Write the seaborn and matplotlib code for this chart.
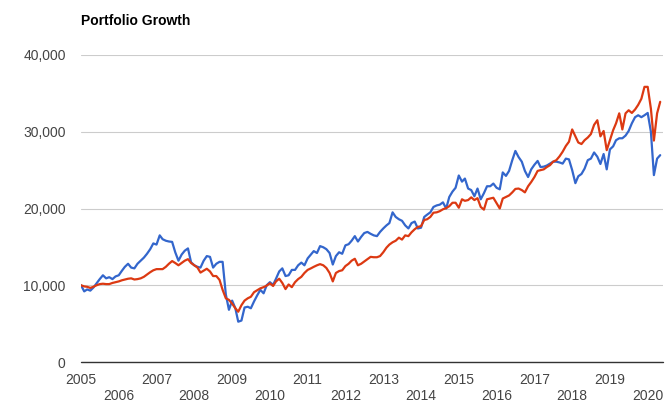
import pandas as pd
import seaborn as sns
import matplotlib.pyplot as plt
from matplotlib.ticker import FuncFormatter

# Monthly values, Jan 2005 - May 2020
months = pd.date_range("2005-01-01", "2020-05-01", freq="MS")

blue_values = [
    # 2005
    10000, 9200, 9450, 9300, 9700, 10250, 10800, 11300, 10900, 11050, 10800, 11150,
    # 2006
    11300, 11900, 12400, 12800, 12300, 12200, 12800, 13200, 13600, 14100, 14700, 15450,
    # 2007
    15300, 16500, 16000, 15800, 15700, 15650, 14300, 13200, 14000, 14500, 14800, 13000,
    # 2008
    12600, 12400, 12300, 13200, 13800, 13700, 12300, 12800, 13050, 13050, 8800, 6800,
    # 2009
    8000, 7000, 5250, 5400, 7100, 7200, 7000, 7900, 8700, 9400, 8950, 10000,
    # 2010
    10400, 10050, 10850, 11800, 12200, 11200, 11300, 12000, 12000, 12600, 12950, 12600,
    # 2011
    13500, 14000, 14450, 14200, 15100, 14950, 14700, 14200, 12700, 13800, 14300, 14100,
    # 2012
    15200, 15350, 15800, 16400, 15700, 16300, 16800, 16950, 16700, 16500, 16400, 16950,
    # 2013
    17400, 17800, 18100, 19500, 18900, 18600, 18400, 17800, 17400, 18100, 18300, 17400,
    # 2014
    17500, 18900, 19200, 19500, 20200, 20400, 20500, 20800, 20000, 21500, 22200, 22700,
    # 2015
    24300, 23500, 23900, 22600, 22400, 21600, 22600, 21200, 22000, 22900, 22900, 23250,
    # 2016
    22700, 22500, 24700, 24250, 24900, 26300, 27500, 26700, 26100, 24900, 24100, 25100,
    # 2017
    25700, 26200, 25400, 25450, 25600, 25850, 26100, 26100, 26000, 25850, 26500, 26400,
    # 2018
    25000, 23300, 24200, 24500, 25200, 26300, 26500, 27300, 26750, 25800, 27100, 25100,
    # 2019
    27700, 28100, 28900, 29150, 29150, 29500, 30100, 31100, 31900, 32150, 31900, 32150,
    # 2020
    32450, 30000, 24350, 26500, 26950,
]

red_values = [
    # 2005
    10000, 9850, 9800, 9650, 9800, 10000, 10150, 10200, 10150, 10150, 10300, 10400,
    # 2006
    10500, 10650, 10750, 10850, 10900, 10750, 10800, 10900, 11100, 11400, 11700, 11950,
    # 2007
    12100, 12100, 12100, 12400, 12800, 13150, 12900, 12600, 12900, 13200, 13400, 12900,
    # 2008
    12600, 12300, 11650, 11900, 12150, 11800, 11200, 11200, 10700, 9400, 8300, 8100,
    # 2009
    7600, 7000, 6550, 7400, 8000, 8300, 8500, 9100, 9350, 9600, 9750, 9950,
    # 2010
    10250, 9900, 10500, 10850, 10300, 9500, 10100, 9750, 10400, 10800, 11100, 11600,
    # 2011
    12000, 12200, 12400, 12600, 12750, 12600, 12250, 11600, 10500, 11600, 11850, 11950,
    # 2012
    12500, 12800, 13200, 13450, 12600, 12800, 13100, 13400, 13700, 13650, 13650, 13800,
    # 2013
    14300, 14900, 15300, 15600, 15800, 16200, 15950, 16500, 16400, 16900, 17300, 17600,
    # 2014
    17700, 18500, 18600, 18900, 19450, 19500, 19650, 19900, 20050, 20300, 20750, 20750,
    # 2015
    20100, 21200, 21000, 21100, 21450, 21100, 21350, 20200, 19850, 21200, 21300, 21400,
    # 2016
    20700, 20000, 21300, 21500, 21700, 22100, 22550, 22600, 22400, 22100, 22900, 23450,
    # 2017
    24100, 24900, 25000, 25100, 25400, 25650, 26100, 26300, 26800, 27400, 28150, 28700,
    # 2018
    30300, 29400, 28600, 28400, 28900, 29250, 29700, 30900, 31500, 29400, 30100, 27600,
    # 2019
    28900, 30200, 31100, 32400, 30300, 32400, 32800, 32450, 32900, 33500, 34300, 35850,
    # 2020
    35850, 33000, 28850, 32400, 33900,
]

series_names = ["Portfolio 1", "Portfolio 2"]
colors = {"Portfolio 1": "#3366cc", "Portfolio 2": "#dc3912"}
y_ticks = [0, 10000, 20000, 30000, 40000]
years = list(range(2005, 2021))

df = pd.DataFrame({
    "Date": list(months) * 2,
    "Value": blue_values + red_values,
    "Portfolio": [series_names[0]] * len(months) + [series_names[1]] * len(months),
})

sns.set_style("white")
plt.rcParams["font.family"] = ["Liberation Sans", "DejaVu Sans"]

fig = plt.figure(figsize=(6.68, 4.16), dpi=100)
ax = fig.add_axes([81 / 668, 54 / 416, (663 - 81) / 668, (362 - 55) / 416])

sns.lineplot(
    data=df,
    x="Date",
    y="Value",
    hue="Portfolio",
    hue_order=series_names,
    palette=colors,
    linewidth=1.6,
    legend=False,
    ax=ax,
)

# y axis: gridlines with comma labels
ax.set_ylim(0, 40000)
ax.set_yticks(y_ticks)
ax.yaxis.set_major_formatter(FuncFormatter(lambda v, p: f"{int(v):,}"))
ax.grid(axis="y", color="#cccccc", linewidth=0.8)
ax.grid(axis="x", visible=False)
ax.axhline(0, color="#333333", linewidth=1.0, clip_on=False, zorder=3)

# x axis: years on two staggered rows
ax.set_xlim(months[0], pd.Timestamp("2020-05-28"))
ax.set_xticks(pd.to_datetime([f"{y}-01-01" for y in years]))
ax.set_xticklabels([str(y) if y % 2 == 1 else "\n" + str(y) for y in years])

for side in ["top", "right", "left", "bottom"]:
    ax.spines[side].set_visible(False)

ax.tick_params(axis="y", length=0, pad=11, labelsize=10, labelcolor="#444444")
ax.tick_params(axis="x", length=0, pad=8, labelsize=10, labelcolor="#444444")
ax.set_xlabel("")
ax.set_ylabel("")

fig.text(81 / 668, 1 - 21 / 416, "Portfolio Growth", fontweight="bold",
         fontsize=10, ha="left", va="center", color="black")

plt.savefig("out.png", dpi=100)
